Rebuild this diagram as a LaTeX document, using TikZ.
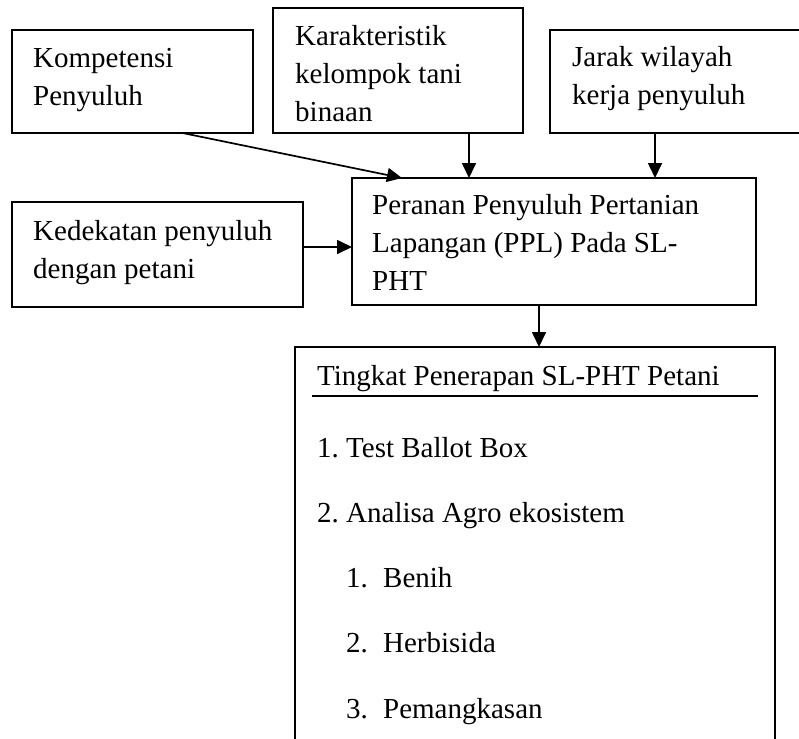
\documentclass[tikz,border=0pt]{standalone}
\usepackage{fontspec}
\setmainfont{Liberation Serif}
\usetikzlibrary{arrows.meta}

\tikzset{
  kotak/.style={draw, line width=1.7pt, inner sep=0pt, outer sep=0pt, anchor=north west},
  teks/.style={anchor=base west, align=left, inner sep=0pt, font=\fontsize{29}{38}\selectfont},
  panah/.style={line width=1.7pt, -{Triangle[length=15pt,width=14pt]}}
}

\begin{document}
\begin{tikzpicture}[x=1pt,y=-1pt]
\useasboundingbox (0,0) rectangle (799,738);
\clip (0,0) rectangle (799,738);
% kotak
\node[kotak, minimum width=241pt, minimum height=103pt] (kompetensi) at (12,30) {};
\node[kotak, minimum width=250pt, minimum height=125pt] (karakteristik) at (273,8) {};
\node[kotak, minimum width=262pt, minimum height=103pt] (jarak) at (550,30) {};
\node[kotak, minimum width=291pt, minimum height=105pt] (kedekatan) at (12,202) {};
\node[kotak, minimum width=404pt, minimum height=127pt] (peranan) at (352,178) {};
\node[kotak, minimum width=480pt, minimum height=420pt] (tingkat) at (295,347) {};
% teks (base = baris terakhir)
\node[teks] (kompetensiT) at (33,106) {Kompetensi\\Penyuluh};
\node[teks] (karakteristikT) at (295,122) {Karakteristik\\kelompok tani\\binaan};
\node[teks] (jarakT) at (572,105) {Jarak wilayah\\kerja penyuluh};
\node[teks] (kedekatanT) at (33,278) {Kedekatan penyuluh\\dengan petani};
\node[teks] (perananT) at (372,290) {Peranan Penyuluh Pertanian\\Lapangan (PPL) Pada SL-\\PHT};
\node[teks] (judul) at (317,385) {Tingkat Penerapan SL-PHT Petani};
\node[teks] (item1) at (317,457) {1.\ Test Ballot Box};
\node[teks] (item2) at (317,522) {2.\ Analisa Agro ekosistem};
\node[teks] (sub1) at (346,587) {\makebox[37pt][l]{1.}Benih};
\node[teks] (sub2) at (346,652) {\makebox[37pt][l]{2.}Herbisida};
\node[teks] (sub3) at (346,718) {\makebox[37pt][l]{3.}Pemangkasan};
\draw[line width=1.4pt] ([xshift=17pt,yshift=-49pt]tingkat.north west) -- ([xshift=-17pt,yshift=-49pt]tingkat.north east);
% panah
\draw[panah] ([xshift=50pt]kompetensi.south) -- ([xshift=-152pt]peranan.north);
\draw[panah] ([xshift=71pt]karakteristik.south) -- ([xshift=71pt]karakteristik.south |- peranan.north);
\draw[panah] ([xshift=-26pt]jarak.south) -- ([xshift=-26pt]jarak.south |- peranan.north);
\draw[panah] ([yshift=7.5pt]kedekatan.east) -- ([yshift=7.5pt]kedekatan.east -| peranan.west);
\draw[panah] ([xshift=-15pt]peranan.south) -- ([xshift=-15pt]peranan.south |- tingkat.north);
\end{tikzpicture}
\end{document}
